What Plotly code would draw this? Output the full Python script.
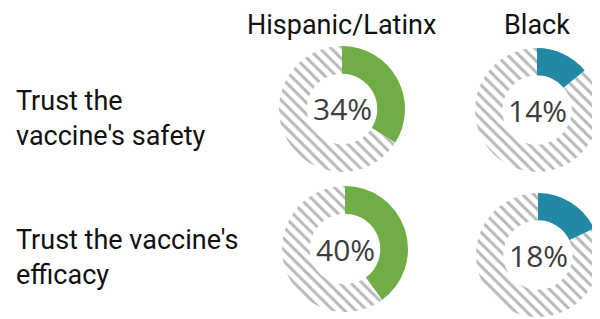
import plotly.graph_objects as go

groups = ["Hispanic/Latinx", "Black"]
measures = ["Trust the<br>vaccine's safety", "Trust the vaccine's<br>efficacy"]
# percent values: rows = measures, cols = groups
values = [[34, 14], [40, 18]]
group_colors = ["#70ad47", "#2189a4"]

# page has an 8px body margin; figure sized to fit the window
OFF = 8
W, H = 600 - OFF, 319 - OFF
radii = [63, 62]
col_cx = [[342, 537], [345, 538]]
row_cy = [[109, 110], [249, 255]]


def px(x):
    return (x - OFF) / W


def py(y):
    return (H - (y - OFF)) / H


fig = go.Figure()
for i in range(len(measures)):
    for j in range(len(groups)):
        v = values[i][j]
        R = radii[j]
        cx, cy = col_cx[i][j], row_cy[i][j]
        fig.add_trace(go.Pie(
            values=[v, 100 - v],
            sort=False,
            direction="clockwise",
            rotation=0,
            hole=0.56,
            textinfo="none",
            hoverinfo="skip",
            showlegend=False,
            marker=dict(
                colors=[group_colors[j], "white"],
                line=dict(width=0),
                pattern=dict(shape=["", "\\"], fgcolor="#b8b8b8", bgcolor="white",
                             size=8, solidity=0.36),
            ),
            domain=dict(x=[max(0, px(cx - R)), min(1, px(cx + R))],
                        y=[max(0, py(cy + R)), min(1, py(cy - R))]),
        ))
        fig.add_annotation(x=px(cx), y=py(cy), xref="paper", yref="paper",
                           xanchor="center", yanchor="middle",
                           text=f"{v}%", showarrow=False,
                           font=dict(family="Open Sans", size=30, color="#3c3c3c"))

for j, g in enumerate(groups):
    fig.add_annotation(x=px([341, 537][j]), y=1, xref="paper", yref="paper",
                       xanchor="center", yanchor="top", borderpad=0,
                       text=g, showarrow=False,
                       font=dict(family="Roboto", size=27, color="#111111"))

for i, m in enumerate(measures):
    fig.add_annotation(x=px(14), y=py([118, 257][i]), xref="paper", yref="paper",
                       xanchor="left", yanchor="middle", align="left",
                       text=m, showarrow=False,
                       font=dict(family="Roboto", size=27, color="#111111"))

fig.update_layout(width=W, height=H, margin=dict(l=0, r=0, t=0, b=0),
                  paper_bgcolor="white", plot_bgcolor="white")
fig.write_html("out.html")
